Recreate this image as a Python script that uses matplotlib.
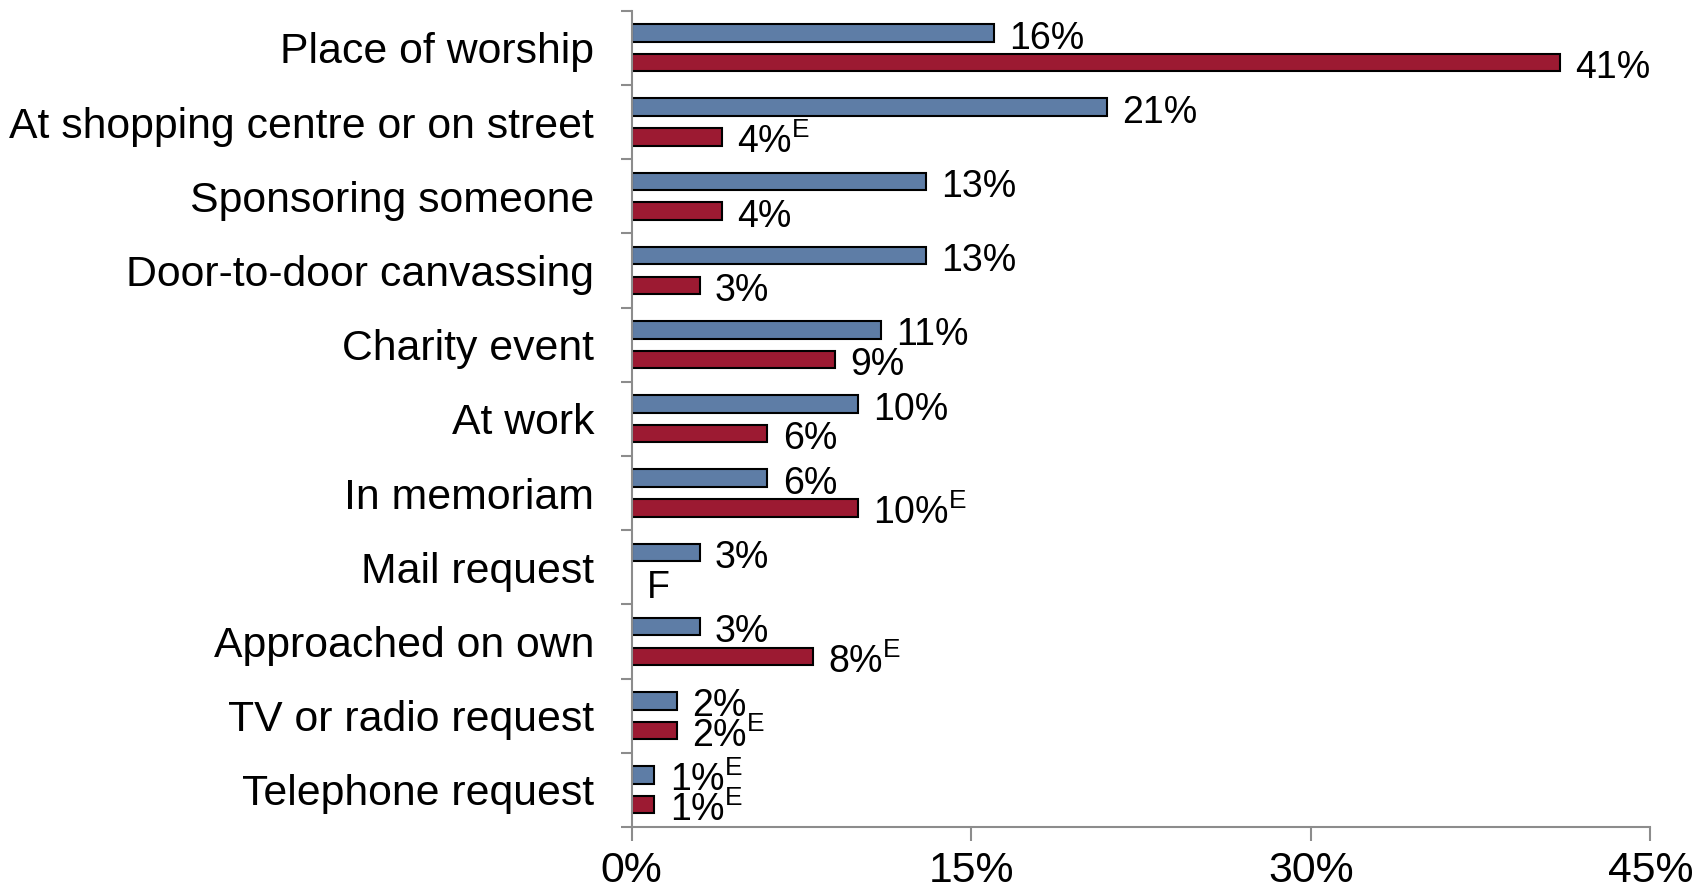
import matplotlib
matplotlib.use("Agg")
import matplotlib.pyplot as plt
import numpy as np

categories = ["Place of worship", "At shopping centre or on street", "Sponsoring someone",
              "Door-to-door canvassing", "Charity event", "At work", "In memoriam",
              "Mail request", "Approached on own", "TV or radio request", "Telephone request"]
series_a = [16, 21, 13, 13, 11, 10, 6, 3, 3, 2, 1]
series_b = [41, 4, 4, 3, 9, 6, 10, None, 8, 2, 1]
flag_a = ["", "", "", "", "", "", "", "", "", "", "E"]
flag_b = ["", "E", "", "", "", "", "E", "F", "E", "E", "E"]
xticks = [0, 15, 30, 45]

plt.rcParams['font.family'] = ['Liberation Sans', 'DejaVu Sans']
plt.rcParams['mathtext.fontset'] = 'custom'
plt.rcParams['mathtext.rm'] = 'Liberation Sans'

fig = plt.figure(figsize=(16.98, 8.94), dpi=100)
ax = fig.add_axes([0.372, 0.075, 0.6, 0.913])

n = len(categories)
y = np.arange(n)
off = 0.2
h = 0.235
col_a = "#5E7DA6"
col_b = "#9C1A32"

va = np.array(series_a, dtype=float)
vb = np.array([v if v is not None else 0 for v in series_b], dtype=float)
ax.barh(y - off, va, height=h, color=col_a, edgecolor="black", linewidth=1.5)
mask = np.array([v is not None for v in series_b])
ax.barh(y[mask] + off, vb[mask], height=h, color=col_b, edgecolor="black", linewidth=1.5)

def lab(v, f):
    if v is None:
        return f
    s = f"{v}%"
    if f == "E":
        s += r"$^{\mathrm{E}}$"
    return s

fs_val = 27
for i in range(n):
    ax.annotate(lab(series_a[i], flag_a[i]), (va[i], y[i] - off), xytext=(11, -4),
                textcoords="offset points", va="center", ha="left", fontsize=fs_val)
    ax.annotate(lab(series_b[i], flag_b[i]), (vb[i], y[i] + off), xytext=(11, -4),
                textcoords="offset points", va="center", ha="left", fontsize=fs_val)

ax.set_ylim(n - 0.5, -0.5)
ax.set_xlim(0, 45)
ax.set_yticks(y)
ax.set_yticklabels(categories, fontsize=30.8)
ax.set_yticks(np.arange(-0.5, n, 1), minor=True)
ax.tick_params(axis='y', which='major', length=0, pad=27)
ax.tick_params(axis='y', which='minor', length=8, width=1.5, color="#8c8c8c", direction='out')
ax.set_xticks(xticks)
ax.set_xticklabels([f"{t}%" for t in xticks], fontsize=30.8)
ax.tick_params(axis='x', length=10, width=1.5, color="#8c8c8c", pad=7, direction='out')

for s in ["top", "right"]:
    ax.spines[s].set_visible(False)
for s in ["left", "bottom"]:
    ax.spines[s].set_color("#8c8c8c")
    ax.spines[s].set_linewidth(1.5)

fig.savefig("out.png", dpi=100)
